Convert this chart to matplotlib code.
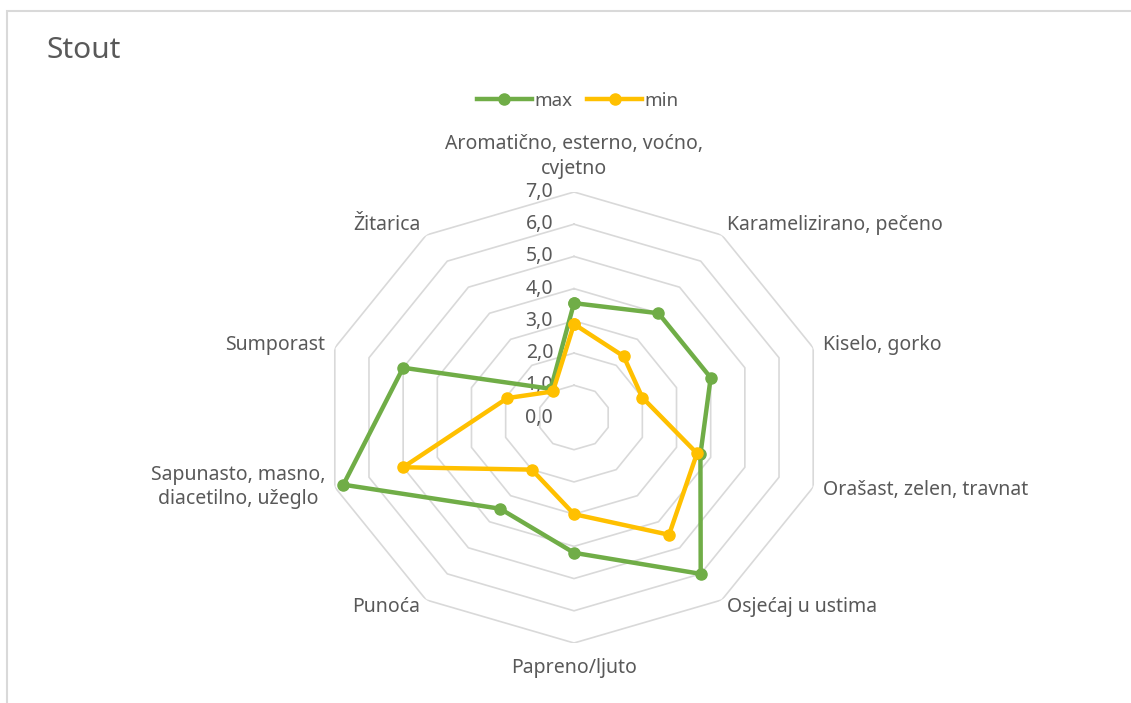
import numpy as np
import matplotlib.pyplot as plt
from matplotlib.patches import Rectangle

plt.rcParams['font.family'] = ['Noto Sans', 'DejaVu Sans']

# Sensory profile for the stout, clockwise from the top
categories = [
    "Aromatično, esterno, voćno,\ncvjetno",
    "Karamelizirano, pečeno",
    "Kiselo, gorko",
    "Orašast, zelen, travnat",
    "Osjećaj u ustima",
    "Papreno/ljuto",
    "Punoća",
    "Sapunasto, masno,\ndiacetilno, užeglo",
    "Sumporast",
    "Žitarica",
]
max_values = [3.55, 4.0, 4.0, 3.7, 6.0, 4.2, 3.5, 6.75, 5.0, 1.1]
min_values = [2.9, 2.35, 2.0, 3.6, 4.5, 3.0, 2.0, 5.0, 1.95, 1.0]
ring_values = [0, 1, 2, 3, 4, 5, 6, 7]

GREEN = '#70AD47'
GOLD = '#FFC000'
TEXT = '#595959'
GRID = '#D9D9D9'
FS = 14

W, H = 1131, 703
fig = plt.figure(figsize=(W / 100, H / 100), dpi=100)

# polar axes stretched a bit wider than tall, like the Excel radar
cx, cy, rx, ry = 574, 417.5, 251.5, 225.5
ax = fig.add_axes([(cx - rx) / W, (H - cy - ry) / H, 2 * rx / W, 2 * ry / H],
                  projection='polar')
ax.set_aspect('auto')
ax.set_theta_zero_location('N')
ax.set_theta_direction(-1)
ax.set_ylim(0, 7)
ax.grid(False)
ax.set_xticks([])
ax.set_yticks([])
ax.spines['polar'].set_visible(False)
ax.patch.set_visible(False)

n = len(categories)
theta = np.arange(n) * 2 * np.pi / n
theta_closed = np.append(theta, theta[0])

# decagon grid rings
for r in ring_values[1:]:
    ax.plot(theta_closed, [r] * (n + 1), color=GRID, lw=1.2, zorder=1)

# radial value labels on the vertical axis
for r in ring_values:
    ax.annotate(f"{r:.1f}".replace('.', ','), xy=(0, r), xytext=(-15, 0),
                textcoords='offset points', ha='right', va='center',
                fontsize=FS, color=TEXT, zorder=2)

# category labels around the outer ring
label_style = [
    ('center', 'bottom', 0, 9.5),
    ('left', 'center', 4, 7),
    ('left', 'center', 7, 2),
    ('left', 'center', 7, -2),
    ('left', 'center', 4, -5),
    ('center', 'center', 0, -18),
    ('right', 'center', -4, -5),
    ('right', 'center', -7, 0),
    ('right', 'center', -7, 2),
    ('right', 'center', -4, 7),
]
for t, lab, (ha, va, dx, dy) in zip(theta, categories, label_style):
    ax.annotate(lab, xy=(t, 7), xytext=(dx, dy), textcoords='offset points',
                ha=ha, va=va, multialignment='center', fontsize=FS,
                color=TEXT, linespacing=1.3, annotation_clip=False)

l_max, = ax.plot(theta_closed, max_values + max_values[:1], color=GREEN,
                 lw=3.2, marker='o', ms=8, label='max', zorder=3)
l_min, = ax.plot(theta_closed, min_values + min_values[:1], color=GOLD,
                 lw=3.2, marker='o', ms=8, label='min', zorder=4)

fig.legend(handles=[l_max, l_min], loc='center', ncol=2,
           bbox_to_anchor=(578 / W, 1 - 101 / H), frameon=False,
           fontsize=FS - 0.5, labelcolor=TEXT, handlelength=2.9,
           handletextpad=0.15, columnspacing=0.8)

fig.text(47 / W, 1 - 51 / H, "Stout", fontsize=21.5, color=TEXT,
         ha='left', va='center')

# chart area border (right and bottom edges run off the image)
fig.add_artist(Rectangle((7 / W, -0.1), 1.2, 1.1 - 11 / H,
                         transform=fig.transFigure, fill=False,
                         ec=GRID, lw=1.5))

fig.savefig('out.png', dpi=100)
